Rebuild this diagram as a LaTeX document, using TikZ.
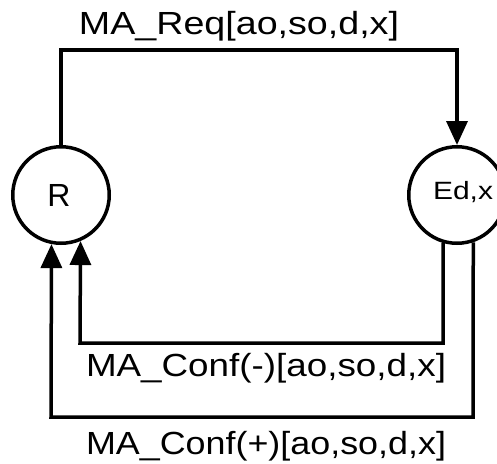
\documentclass[tikz,border=0pt]{standalone}
\usepackage{fontspec}
\setmainfont{Liberation Sans}
\usetikzlibrary{arrows.meta}
\tikzset{
  stnode/.style={circle, draw, line width=3.5pt, minimum size=96.5pt, inner sep=0pt},
  conn/.style={line width=3.5pt},
  arr/.style={conn, -{Triangle[length=24pt,width=21pt]}},
  lab/.style={anchor=base, inner sep=0pt, font=\fontsize{32}{32}\selectfont}
}
\begin{document}
\begin{tikzpicture}[x=1pt,y=-1pt]
\useasboundingbox (0,0) rectangle (497,463);
\node[stnode] (R) at (61,195) {};
\node[font=\fontsize{32}{32}\selectfont] (Rt) at (59,195) {R};
\node[stnode] (E) at (457,195) {};
\node[font=\fontsize{25}{25}\selectfont] (Et) at (463,192) {\resizebox{60pt}{\height}{Ed,x}};
% request
\coordinate (t1) at (61,50);
\coordinate (t2) at (457,50);
\draw[arr] (R.north) -- (t1) -- (t2) -- (E.north);
% conf(-)
\coordinate (m1) at (443,343);
\coordinate (m2) at (80,343);
\draw[arr] (E.-106.3) -- (m1) -- (m2) -- (R.-67.7);
% conf(+)
\coordinate (p1) at (473,417);
\coordinate (p2) at (51,417);
\draw[arr] (E.-71.3) -- (p1) -- (p2) -- (R.-101.5);
% labels
\node[lab] (lreq) at (239,34) {\resizebox{320pt}{\height}{MA\_Req[ao,so,d,x]}};
\node[lab] (lneg) at (266,376) {\resizebox{360pt}{\height}{MA\_Conf(-)[ao,so,d,x]}};
\node[lab] (lpos) at (266,454) {\resizebox{360pt}{\height}{MA\_Conf(+)[ao,so,d,x]}};
\end{tikzpicture}
\end{document}
